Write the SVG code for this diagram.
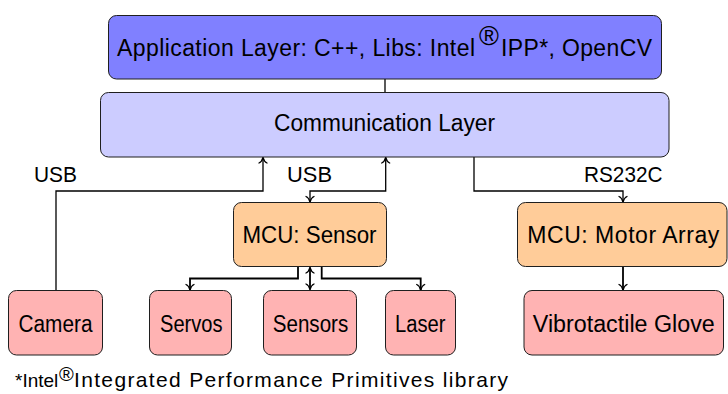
<svg xmlns="http://www.w3.org/2000/svg" width="728" height="394" viewBox="0 0 728 394">
  <style>
    .box { stroke: #1f1f1f; stroke-width: 1; }
    .app { fill: #8080ff; }
    .comm { fill: #ccccff; }
    .mcu { fill: #ffcc99; }
    .dev { fill: #ffb3b3; }
    text { font-family: "Liberation Sans", "DejaVu Sans", sans-serif; font-size: 23px; fill: #000; }
    .c { text-anchor: middle; }
    .lbl { font-size: 22px; }
    .reg { font-size: 27px; }
    .note { font-size: 21px; }
    .note .star { font-size: 19px; }
    .note .reg { font-size: 20px; }
    .wire { fill: none; stroke: #000; stroke-width: 1.3; }
    .bus { fill: none; stroke: #000; stroke-width: 1.8; }
  </style>
  <defs>
    <marker id="tip" viewBox="-7 -5 8 10" refX="0" refY="0" markerWidth="8" markerHeight="10" markerUnits="userSpaceOnUse" orient="auto-start-reverse">
      <path d="M-5.5,-4 C-4.5,-1.6 -1.5,-0.4 0,0 C-1.5,0.4 -4.5,1.6 -5.5,4" fill="none" stroke="#000" stroke-width="1.3" stroke-linecap="round"/>
    </marker>
  </defs>

  <!-- links between the layers, controllers and devices -->
  <g id="connectors">
    <path class="wire" d="M385,79 V92"/>
    <path class="wire" d="M56,290 V191 H263 V157.5" marker-end="url(#tip)"/>
    <path class="wire" d="M385.7,157.5 V191 H310 V202" marker-start="url(#tip)" marker-end="url(#tip)"/>
    <path class="wire" d="M474,157 V191 H623 V202" marker-end="url(#tip)"/>
    <path class="bus" d="M298,267 V278.5 H190 V290" marker-end="url(#tip)"/>
    <path class="bus" d="M310,267.5 V289.5" marker-start="url(#tip)" marker-end="url(#tip)"/>
    <path class="bus" d="M321.7,267 V278.5 H420.7 V290" marker-end="url(#tip)"/>
    <path class="bus" d="M623,267 V290" marker-end="url(#tip)"/>
    <text class="lbl" x="34" y="181.5" textLength="43" lengthAdjust="spacingAndGlyphs">USB</text>
    <text class="lbl" x="287" y="181.5" textLength="45" lengthAdjust="spacingAndGlyphs">USB</text>
    <text class="lbl" x="584" y="181.5" textLength="78.5" lengthAdjust="spacingAndGlyphs">RS232C</text>
  </g>

  <g id="application-layer">
    <rect class="box app" x="108.5" y="15.5" width="553" height="63.5" rx="8"/>
    <text y="56"><tspan x="117" textLength="358">Application Layer: C++, Libs: Intel</tspan><tspan class="reg" x="479" dy="-11">®</tspan><tspan x="501" dy="11" textLength="151">IPP*, OpenCV</tspan></text>
  </g>

  <g id="communication-layer">
    <rect class="box comm" x="100.5" y="92.5" width="568.5" height="64.5" rx="8"/>
    <text class="c" x="384.5" y="131" textLength="221" lengthAdjust="spacingAndGlyphs">Communication Layer</text>
  </g>

  <g id="mcu-sensor">
    <rect class="box mcu" x="233.5" y="202.5" width="153" height="64" rx="8"/>
    <text class="c" x="309.5" y="242.5" textLength="134" lengthAdjust="spacingAndGlyphs">MCU: Sensor</text>
  </g>

  <g id="mcu-motor-array">
    <rect class="box mcu" x="517.5" y="202.5" width="209.5" height="64" rx="8"/>
    <text class="c" x="623.3" y="242.5" textLength="192">MCU: Motor Array</text>
  </g>

  <g id="camera">
    <rect class="box dev" x="8.5" y="290.5" width="94" height="64.5" rx="8"/>
    <text class="c" x="55.5" y="332" textLength="74" lengthAdjust="spacingAndGlyphs">Camera</text>
  </g>

  <g id="servos">
    <rect class="box dev" x="149.5" y="290.5" width="82" height="64.5" rx="8"/>
    <text class="c" x="191.3" y="332" textLength="62.5" lengthAdjust="spacingAndGlyphs">Servos</text>
  </g>

  <g id="sensors">
    <rect class="box dev" x="263.5" y="290.5" width="93" height="64.5" rx="8"/>
    <text class="c" x="310.5" y="332" textLength="75.5" lengthAdjust="spacingAndGlyphs">Sensors</text>
  </g>

  <g id="laser">
    <rect class="box dev" x="385.5" y="290.5" width="70" height="64.5" rx="8"/>
    <text class="c" x="420.3" y="332" textLength="50.5" lengthAdjust="spacingAndGlyphs">Laser</text>
  </g>

  <g id="vibrotactile-glove">
    <rect class="box dev" x="524" y="290.5" width="199.5" height="64.5" rx="8"/>
    <text class="c" x="623.8" y="332" textLength="182" lengthAdjust="spacingAndGlyphs">Vibrotactile Glove</text>
  </g>

  <!-- footnote -->
  <text class="note" y="386.5"><tspan class="star" x="15">*Intel</tspan><tspan class="reg" x="59" dy="-6">®</tspan><tspan x="74" dy="6" textLength="434">Integrated Performance Primitives library</tspan></text>
</svg>
